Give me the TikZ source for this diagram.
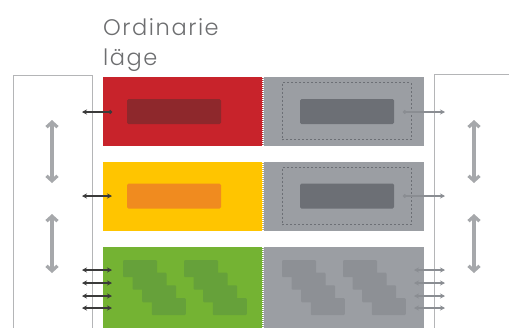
\documentclass[tikz,border=0pt]{standalone}
\usepackage{fontspec}
\usepackage{tikz}
\usetikzlibrary{positioning, arrows.meta}
\newfontfamily\titlefont{Poppins Light}[LetterSpace=7]
\definecolor{redmain}{HTML}{C8232B}
\definecolor{redinner}{HTML}{8E282C}
\definecolor{yelmain}{HTML}{FFC500}
\definecolor{yelinner}{HTML}{F08B1F}
\definecolor{grnmain}{HTML}{74B333}
\definecolor{grninner}{HTML}{66A13A}
\definecolor{graymain}{HTML}{9B9EA3}
\definecolor{grayinner}{HTML}{6C6F75}
\definecolor{graysmall}{HTML}{8D9095}
\definecolor{framegray}{HTML}{B4B5B7}
\definecolor{arrowgray}{HTML}{A6A8AB}
\definecolor{linkdark}{HTML}{3A3A3A}
\definecolor{linkgray}{HTML}{8A8D92}
\definecolor{inkmuted}{HTML}{6D6E70}
\begin{document}
\begin{tikzpicture}[x=1pt, y=-1pt,
  block/.style={inner sep=0pt, outer sep=0pt, minimum width=160pt},
  inner/.style={inner sep=0pt, outer sep=0pt, rounded corners=1.5pt, minimum width=94pt, minimum height=25pt},
  dashbox/.style={draw=grayinner, line width=0.9pt, dash pattern=on 2pt off 2pt, inner sep=0pt, minimum width=129pt, minimum height=57pt},
  link/.style={draw=linkdark, line width=1.4pt},
  move/.style={draw=arrowgray, line width=3.2pt, {Straight Barb[length=5pt, width=11pt]}-{Straight Barb[length=5pt, width=11pt]}}]
\useasboundingbox (0,0) rectangle (509,327);
\clip (0,0) rectangle (509,327);
% outer frames, open at bottom and right
\draw[framegray, line width=1pt] (13,340) -- (13,75) -- (92,75) -- (92,340);
\draw[framegray, line width=1pt] (520,74) -- (434,74) -- (434,340);
\node[font=\titlefont\fontsize{22.5}{30}\selectfont, color=inkmuted, anchor=north west, align=left, inner sep=0pt] (title) at (103,18) {Ordinarie\\läge};
% rows
\node[block, fill=redmain, minimum height=69pt] (redrow) at (183,111.5) {};
\node[block, fill=graymain, minimum height=69pt, minimum width=161pt] (grayrow1) at (343.5,111.5) {};
\node[block, fill=yelmain, minimum height=69pt] (yelrow) at (183,196.5) {};
\node[block, fill=graymain, minimum height=69pt, minimum width=161pt] (grayrow2) at (343.5,196.5) {};
\node[block, fill=grnmain, minimum height=90pt] (grnrow) at (183,292) {};
\node[block, fill=graymain, minimum height=90pt, minimum width=161pt] (grayrow3) at (343.5,292) {};
% inner parts
\node[inner, fill=redinner] (redapp) at (174,111.5) {};
\node[inner, fill=yelinner] (yelapp) at (174,196) {};
\node[dashbox] (spare1) at (346.5,111) {};
\node[inner, fill=grayinner] (grayapp1) at (347,111.5) {};
\node[dashbox] (spare2) at (346.5,196) {};
\node[inner, fill=grayinner] (grayapp2) at (347,196) {};
\foreach \gx in {123,184} {
  \foreach \k in {0,...,3} {
    \fill[grninner, rounded corners=1pt] (\gx+9.6*\k, 260+12.7*\k) rectangle ++(34,17);
  }
}
\foreach \gx in {282,343} {
  \foreach \k in {0,...,3} {
    \fill[graysmall, rounded corners=1pt] (\gx+9.6*\k, 260+12.7*\k) rectangle ++(34,17);
  }
}
% white dotted seams
\foreach \ya/\yb in {77/146, 162/231, 247/340} {
  \draw[white, line width=1.3pt, dash pattern=on 1pt off 1pt] (263,\ya) -- (263,\yb);
}
% connectors
\coordinate (l1a) at (82,112);  \coordinate (l1b) at (112,112);
\coordinate (r1a) at (403,112); \coordinate (r1b) at (445,112);
\coordinate (l2a) at (82,196);  \coordinate (l2b) at (112,196);
\coordinate (r2a) at (403,196); \coordinate (r2b) at (445,196);
\draw[link, {Stealth[length=5pt, width=5pt]}-{Circle[length=3.5pt]}] (l1a) -- (l1b);
\draw[link, draw=linkgray, {Circle[length=3.5pt]}-{Stealth[length=5pt, width=5pt]}] (r1a) -- (r1b);
\draw[link, {Stealth[length=5pt, width=5pt]}-{Stealth[length=5pt, width=5pt]}] (l2a) -- (l2b);
\draw[link, draw=linkgray, {Circle[length=3.5pt]}-{Stealth[length=5pt, width=5pt]}] (r2a) -- (r2b);
\foreach \y [count=\i] in {270,283,296,308} {
  \coordinate (gl\i a) at (82,\y);  \coordinate (gl\i b) at (112,\y);
  \coordinate (gr\i a) at (414,\y); \coordinate (gr\i b) at (445,\y);
  \draw[link, {Stealth[length=5pt, width=5pt]}-{Stealth[length=5pt, width=5pt]}] (gl\i a) -- (gl\i b);
  \draw[link, draw=linkgray, {Stealth[length=5pt, width=5pt]}-{Stealth[length=5pt, width=5pt]}] (gr\i a) -- (gr\i b);
}
% vertical moves
\coordinate (lm1a) at (52,120); \coordinate (lm1b) at (52,183);
\coordinate (lm2a) at (52,214); \coordinate (lm2b) at (52,273);
\coordinate (rm1a) at (474,120); \coordinate (rm1b) at (474,183);
\coordinate (rm2a) at (474,214); \coordinate (rm2b) at (474,273);
\draw[move] (lm1a) -- (lm1b);
\draw[move] (lm2a) -- (lm2b);
\draw[move] (rm1a) -- (rm1b);
\draw[move] (rm2a) -- (rm2b);
\end{tikzpicture}
\end{document}
